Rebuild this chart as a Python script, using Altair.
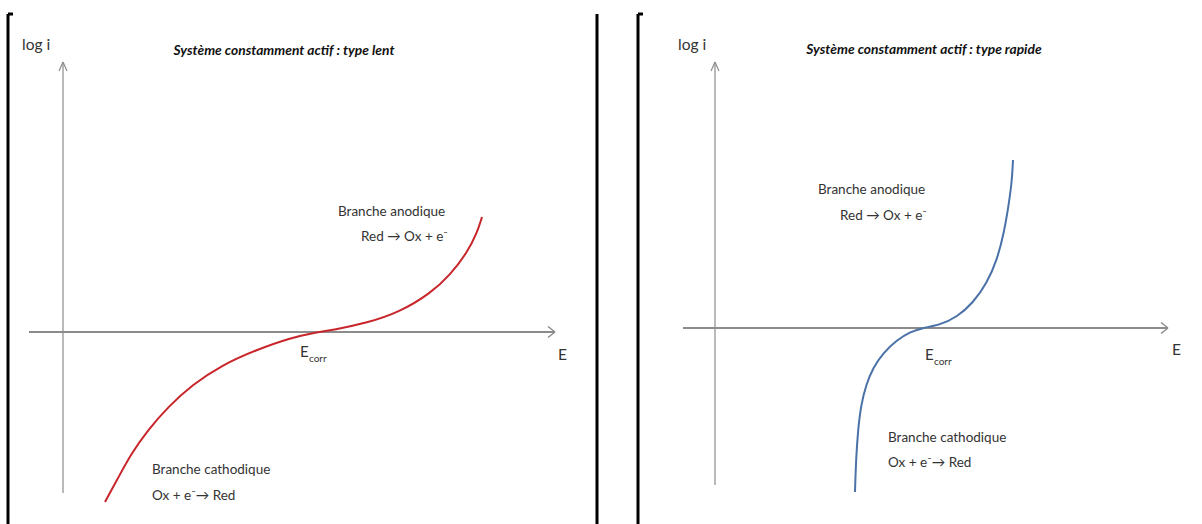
import altair as alt
import pandas as pd

# --- Courbes de polarisation (E en unités arbitraires, log i en unités arbitraires) ---
# Système lent : branche cathodique + branche anodique, passage par Ecorr
LENT_E = [4.2, 5.4, 6.8, 8.5, 10.5, 12.9, 15.9, 19.3, 22.7, 25.4, 27.0, 30.4,
          33.7, 36.8, 38.7, 40.4, 41.4, 41.9]
LENT_LOGI = [-17.0, -14.8, -12.2, -9.8, -7.5, -5.3, -3.3, -1.8, -0.6, 0.0, 0.2, 0.9,
             2.0, 3.9, 5.7, 7.9, 9.9, 11.5]

# Système rapide
RAPIDE_E = [14.0, 14.1, 14.3, 14.6, 15.1, 15.8, 16.8, 18.2, 19.5, 20.7, 22.5, 24.2,
            25.8, 27.2, 28.2, 28.9, 29.4, 29.7, 29.8]
RAPIDE_LOGI = [-16.4, -13.2, -10.2, -7.7, -5.7, -4.0, -2.5, -1.2, -0.4, 0.0, 0.3, 1.1,
               2.5, 4.5, 6.8, 9.5, 12.5, 14.8, 16.8]

TITRES = ["Système constamment actif : type lent",
          "Système constamment actif : type rapide"]
BRANCHES = ["Branche anodique", "Red \u2192 Ox + e\u207b",
            "Branche cathodique", "Ox + e\u207b\u2192 Red"]

FONT = "Lato"
GREY_TXT = "#333333"
AXIS_GREY = "#8c8c8c"


def panel(width, height, xdom, ydom, e_vals, logi_vals, color, layout):
    xs = alt.Scale(domain=xdom, nice=False, zero=False)
    ys = alt.Scale(domain=ydom, nice=False, zero=False)
    X = lambda f: alt.X(f, type="quantitative", scale=xs, axis=None)
    Y = lambda f: alt.Y(f, type="quantitative", scale=ys, axis=None)

    # frame edges of the panel
    frame = pd.DataFrame(layout["frame"], columns=["x", "y", "x2", "y2"])
    frame_layer = alt.Chart(frame).mark_rule(color="black", strokeWidth=3).encode(
        x=X("x"), y=Y("y"), x2="x2", y2="y2")

    # E axis and log i axis with open arrowheads
    ax = layout["axes"]
    axes = pd.DataFrame(ax["lines"], columns=["x", "y", "x2", "y2", "w"])
    axes_layer = alt.Chart(axes).mark_rule(color=AXIS_GREY).encode(
        x=X("x"), y=Y("y"), x2="x2", y2="y2",
        strokeWidth=alt.StrokeWidth("w:Q", scale=None))

    curve = pd.DataFrame({"E": e_vals, "logi": logi_vals})
    curve_layer = alt.Chart(curve).mark_line(
        color=color, strokeWidth=2, interpolate="basis").encode(
        x=X("E"), y=Y("logi"))

    txt = pd.DataFrame(layout["texts"], columns=["x", "y", "t", "size", "style", "weight", "color"])
    layers = [frame_layer, axes_layer, curve_layer]
    for (sty, wt), sub in txt.groupby(["style", "weight"]):
        for size, sub2 in sub.groupby("size"):
            layers.append(alt.Chart(sub2).mark_text(
                align="left", baseline="middle", font=FONT, fontSize=float(size),
                fontStyle=sty, fontWeight=wt).encode(
                x=X("x"), y=Y("y"), text="t:N",
                color=alt.Color("color:N", scale=None)))

    title = pd.DataFrame(layout["title"], columns=["x", "y", "t"])
    layers.append(alt.Chart(title).mark_text(
        align="center", baseline="middle", font=FONT, fontSize=13.8,
        fontStyle="italic", fontWeight="bold", color="#111111").encode(
        x=X("x"), y=Y("y"), text="t:N"))

    return alt.layer(*layers).properties(width=width, height=height)


def axis_lines(x_min, x_max, y_min, y_max):
    return [
        (x_min, 0, x_max, 0, 2),                 # E axis
        (0, y_min, 0, y_max, 1.2),               # log i axis
        (x_max, 0, x_max - 0.7, 0.55, 1.5),      # arrowhead E
        (x_max, 0, x_max - 0.7, -0.55, 1.5),
        (0, y_max, -0.4, y_max - 0.9, 1.2),      # arrowhead log i
        (0, y_max, 0.4, y_max - 0.9, 1.2),
    ]


left_layout = {
    "frame": [(-5.5, 31.8, -5.5, -19.2), (-5.5, 31.8, -5.0, 31.8),
              (53.4, 31.8, 53.4, -19.2)],
    "axes": {"lines": axis_lines(-3.4, 49.2, -16.1, 27.0)},
    "texts": [
        (-4.1, 28.7, "log i", 15.5, "normal", "normal", GREY_TXT),
        (27.5, 12.0, BRANCHES[0], 13.5, "normal", "normal", GREY_TXT),
        (29.8, 9.5, BRANCHES[1], 13.5, "normal", "normal", GREY_TXT),
        (8.9, -13.8, BRANCHES[2], 13.5, "normal", "normal", GREY_TXT),
        (8.9, -16.4, BRANCHES[3], 13.5, "normal", "normal", GREY_TXT),
        (23.7, -2.0, "E", 15, "normal", "normal", GREY_TXT),
        (24.6, -2.7, "corr", 10, "normal", "normal", GREY_TXT),
        (49.5, -2.3, "E", 15.5, "normal", "normal", GREY_TXT),
    ],
    "title": [(22.1, 28.1, TITRES[0])],
}

right_layout = {
    "frame": [(-7.7, 31.4, -7.7, -19.6), (-7.7, 31.4, -7.2, 31.4)],
    "axes": {"lines": axis_lines(-3.2, 45.3, -15.7, 26.6)},
    "texts": [
        (-3.7, 28.3, "log i", 15.5, "normal", "normal", GREY_TXT),
        (10.3, 13.8, BRANCHES[0], 13.5, "normal", "normal", GREY_TXT),
        (12.5, 11.2, BRANCHES[1], 13.5, "normal", "normal", GREY_TXT),
        (17.3, -11.0, BRANCHES[2], 13.5, "normal", "normal", GREY_TXT),
        (17.3, -13.5, BRANCHES[3], 13.5, "normal", "normal", GREY_TXT),
        (21.0, -2.7, "E", 15, "normal", "normal", GREY_TXT),
        (21.9, -3.4, "corr", 10, "normal", "normal", GREY_TXT),
        (45.7, -2.2, "E", 15.5, "normal", "normal", GREY_TXT),
    ],
    "title": [(20.9, 27.8, TITRES[1])],
}

left = panel(614, 524, [-6.3, 55.1], [-19.2, 33.2], LENT_E, LENT_LOGI,
             "#c8262b", left_layout)
right = panel(588, 524, [-10.1, 48.7], [-19.6, 32.8], RAPIDE_E, RAPIDE_LOGI,
              "#4a72a8", right_layout)

chart = alt.hconcat(left, right, spacing=0, padding=0, bounds="flush").configure_view(
    stroke=None).properties(background="white")

chart.save("out.html", embed_options={"renderer": "svg", "actions": False})
